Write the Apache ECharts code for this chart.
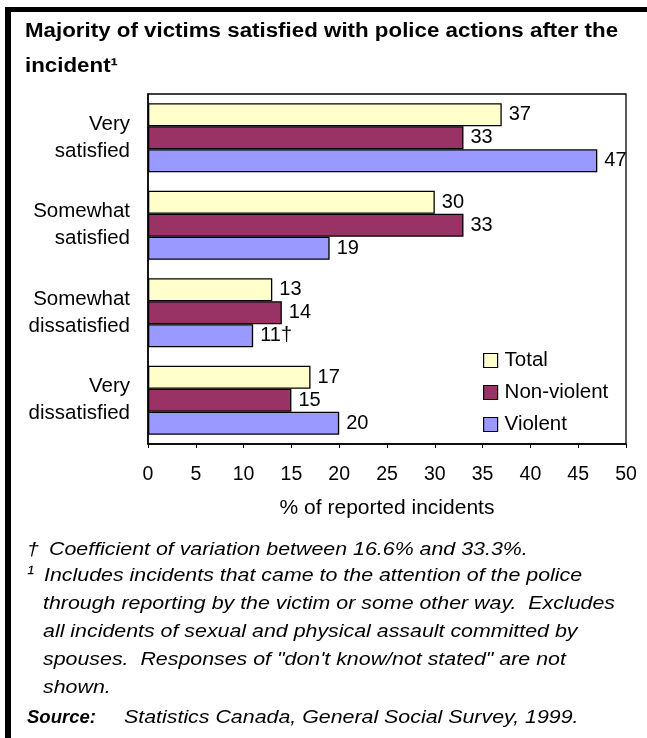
<!DOCTYPE html>
<html>
<head>
<meta charset="utf-8">
<style>
  html, body { margin: 0; padding: 0; background: #fff; }
  #chart { width: 647px; height: 738px; }
</style>
<script src="https://cdn.jsdelivr.net/npm/echarts@6/dist/echarts.min.js"></script>
</head>
<body>
<div id="chart"></div>
<script>
// Satisfaction categories (top to bottom)
const categories = ['Very\nsatisfied', 'Somewhat\nsatisfied', 'Somewhat\ndissatisfied', 'Very\ndissatisfied'];
// % of reported incidents
const totalValues = [37, 30, 13, 17];
const nonViolentValues = [33, 33, 14, 15];
const violentValues = [47, 19, 11, 20];
// quality markers appended to value labels
const violentMarks = ['', '', '†', ''];
const xTicks = [0, 5, 10, 15, 20, 25, 30, 35, 40, 45, 50];

const titleLines = ['Majority of victims satisfied with police actions after the', 'incident¹'];
const noteLines = [
  'Includes incidents that came to the attention of the police',
  'through reporting by the victim or some other way.  Excludes',
  'all incidents of sexual and physical assault committed by',
  'spouses.  Responses of "don\'t know/not stated" are not',
  'shown.'
];
const cvNote = 'Coefficient of variation between 16.6% and 33.3%.';
const sourceLabel = 'Source:';
const sourceText = 'Statistics Canada, General Social Survey, 1999.';

const FONT = '"Liberation Sans", Arial, sans-serif';
const chart = echarts.init(document.getElementById('chart'), null, { renderer: 'canvas' });

function barSeries(name, values, color, marks) {
  return {
    name: name,
    type: 'bar',
    data: values,
    barGap: '0%',
    barCategoryGap: '21%',
    itemStyle: { color: color, borderColor: '#000', borderWidth: 1.3 },
    label: {
      show: true,
      position: 'right',
      distance: 7,
      color: '#000',
      fontFamily: FONT,
      fontSize: 20,
      formatter: p => p.value + (marks ? marks[p.dataIndex] : '')
    },
    animation: false
  };
}

// slightly widened text, as in the printed figure
function wideText(x, y, text, font, sx) {
  return {
    type: 'text', x: x, y: y, scaleX: sx, scaleY: 1,
    style: { text: text, font: font, fill: '#000', align: 'left', verticalAlign: 'middle' }
  };
}

const NOTE_FONT = 'italic 18.5px ' + FONT;
const NOTE_SX = 1.155;
const graphics = [
  // frame edges
  { type: 'rect', shape: { x: 5, y: 7, width: 642, height: 5 }, style: { fill: '#000' } },
  { type: 'rect', shape: { x: 5, y: 7, width: 6, height: 731 }, style: { fill: '#000' } },
  // title
  wideText(25, 32, titleLines[0], 'bold 19.5px ' + FONT, 1.145),
  wideText(25, 67, titleLines[1], 'bold 19.5px ' + FONT, 1.145),
  // footnotes
  wideText(27, 550, '†', NOTE_FONT, NOTE_SX),
  wideText(49, 550, cvNote, NOTE_FONT, NOTE_SX),
  wideText(27, 574, '¹', 'italic 21px ' + FONT, 1),
  wideText(44, 576, noteLines[0], NOTE_FONT, NOTE_SX),
  wideText(43, 604, noteLines[1], NOTE_FONT, NOTE_SX),
  wideText(43, 632, noteLines[2], NOTE_FONT, NOTE_SX),
  wideText(43, 660, noteLines[3], NOTE_FONT, NOTE_SX),
  wideText(43, 688, noteLines[4], NOTE_FONT, NOTE_SX),
  wideText(27, 718, sourceLabel, 'italic bold 18.5px ' + FONT, 1),
  wideText(124, 718, sourceText, NOTE_FONT, NOTE_SX)
];

chart.setOption({
  animation: false,
  backgroundColor: '#fff',
  grid: {
    left: 148, top: 94, width: 478, height: 350,
    show: true, borderColor: '#000', borderWidth: 1.3, containLabel: false
  },
  legend: {
    orient: 'vertical',
    left: 483, top: 350,
    padding: 0,
    itemWidth: 14, itemHeight: 14, itemGap: 11,
    icon: 'rect',
    itemStyle: { borderColor: '#000', borderWidth: 1.2 },
    textStyle: { fontFamily: FONT, fontSize: 20.5, color: '#000', padding: [0, 0, 0, 2] },
    data: ['Total', 'Non-violent', 'Violent']
  },
  xAxis: {
    type: 'value',
    min: xTicks[0], max: xTicks[xTicks.length - 1], interval: 5,
    axisLine: { show: true, lineStyle: { color: '#000', width: 1.5 } },
    axisTick: { show: true, length: 4, lineStyle: { color: '#000' } },
    splitLine: { show: false },
    axisLabel: { fontFamily: FONT, fontSize: 19.5, color: '#000', margin: 21 },
    name: '% of reported incidents',
    nameLocation: 'middle',
    nameGap: 54,
    nameTextStyle: { fontFamily: FONT, fontSize: 21, color: '#000' }
  },
  yAxis: {
    type: 'category',
    data: categories,
    inverse: true,
    axisLine: { show: true, lineStyle: { color: '#000', width: 1.5 } },
    axisTick: { show: false },
    axisLabel: { fontFamily: FONT, fontSize: 20.5, color: '#000', margin: 18, lineHeight: 27, align: 'right' }
  },
  series: [
    barSeries('Total', totalValues, '#FFFFCC', null),
    barSeries('Non-violent', nonViolentValues, '#993366', null),
    barSeries('Violent', violentValues, '#9999FF', violentMarks)
  ],
  graphic: graphics
});
</script>
</body>
</html>
